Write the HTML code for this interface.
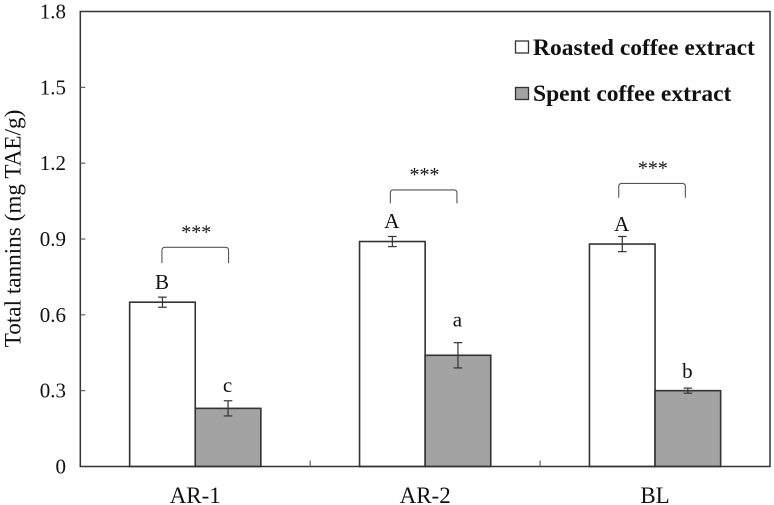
<!DOCTYPE html>
<html lang="en">
<head>
<meta charset="utf-8">
<title>Total tannins chart</title>
<style>
html,body{margin:0;padding:0;background:#fff;width:774px;height:505px;overflow:hidden}
svg{display:block;font-family:"Liberation Serif",serif;filter:blur(.3px)}
</style>
</head>
<body>
<svg id="chart" width="774" height="505" viewBox="0 0 774 505" xmlns="http://www.w3.org/2000/svg">
<rect x="0" y="0" width="774" height="505" fill="#fff"/>
<g id="plot"></g>
<text transform="translate(20.5,228.5) rotate(-90)" text-anchor="middle" font-size="23.2" fill="#111">Total tannins (mg TAE/g)</text>
<g>
<rect x="515.5" y="41" width="13" height="12" fill="#fff" stroke="#333" stroke-width="1.3"/>
<text x="533" y="55" font-size="23.5" font-weight="bold" fill="#111">Roasted coffee extract</text>
<rect x="515.5" y="87.5" width="13" height="12" fill="#a3a3a3" stroke="#333" stroke-width="1.3"/>
<text x="533" y="101" font-size="23.5" font-weight="bold" fill="#111">Spent coffee extract</text>
</g>
</svg>
<script>
const categories = ['AR-1', 'AR-2', 'BL'];
const roastedValues = [0.65, 0.89, 0.88];
const spentValues = [0.23, 0.44, 0.30];
const roastedErrors = [0.02, 0.02, 0.03];
const spentErrors = [0.03, 0.05, 0.01];
const roastedLetters = ['B', 'A', 'A'];
const spentLetters = ['c', 'a', 'b'];
const roastedLetterGaps = [0.032, 0.033, 0.022];
const spentLetterGaps = [0.035, 0.063, 0.041];
const significance = ['***', '***', '***'];
const bracketLevels = [0.867, 1.094, 1.12];
const bracketLegs = [0.063, 0.053, 0.057];
const yTicks = [0, 0.3, 0.6, 0.9, 1.2, 1.5, 1.8];
const yTickLabels = ['0', '0.3', '0.6', '0.9', '1.2', '1.5', '1.8'];

const NS = 'http://www.w3.org/2000/svg';
const plot = document.getElementById('plot');
const left = 80.3, right = 770, top_ = 11.5, bottom = 466.5, yMax = 1.8;
const bandW = (right - left) / categories.length;
const barW = 65.6;
const y = v => bottom - (v / yMax) * (bottom - top_);
const bandCenter = i => left + bandW * (i + 0.5);
const stroke = '#333';

function make(tag, attrs, name, text) {
  const el = document.createElementNS(NS, tag);
  for (const k in attrs) el.setAttribute(k, attrs[k]);
  
  
  if (text !== undefined) el.textContent = text;
  plot.appendChild(el);
  return el;
}
function line(x1, y1, x2, y2, name, w, col) {
  return make('line', {x1, y1, x2, y2, stroke: col || stroke, 'stroke-width': w || 1.5}, name);
}

categories.forEach((c, i) => {
  const cx = bandCenter(i);
  const id = c.toLowerCase();
  [[roastedValues, roastedErrors, roastedLetters, '#fff', 'roasted', -barW, roastedLetterGaps],
   [spentValues, spentErrors, spentLetters, '#a3a3a3', 'spent', 0, spentLetterGaps]].forEach(s => {
    const v = s[0][i], e = s[1][i];
    const x = cx + s[5];
    make('rect', {x, y: y(v), width: barW, height: bottom - y(v), fill: s[3], stroke: stroke, 'stroke-width': 1.6}, 'bar-' + s[4] + '-' + id);
    const mx = x + barW / 2;
    line(mx, y(v + e), mx, y(v - e), 'error-bar-' + s[4] + '-' + id, 1.2);
    line(mx - 4.3, y(v + e), mx + 4.3, y(v + e), 'error-cap-top-' + s[4] + '-' + id, 1.2);
    line(mx - 4.3, y(v - e), mx + 4.3, y(v - e), 'error-cap-bottom-' + s[4] + '-' + id, 1.2);
    make('text', {x: mx - 0.5, y: y(v + e + s[6][i]), 'text-anchor': 'middle', 'font-size': 21, fill: '#111'}, 'letter-' + s[4] + '-' + id, s[2][i]);
  });
  const by = y(bracketLevels[i]);
  const legEnd = y(bracketLevels[i] - bracketLegs[i]);
  const bracketCenter = cx - i * 1.5;
  const bx1 = bracketCenter - barW / 2 - 0.5, bx2 = bracketCenter + barW / 2 + 0.5;
  make('path', {d: `M${bx1} ${legEnd} V${by + 3} Q${bx1} ${by} ${bx1 + 3} ${by} H${bx2 - 3} Q${bx2} ${by} ${bx2} ${by + 3} V${legEnd}`, fill: 'none', stroke: '#555', 'stroke-width': 1.1}, 'significance-bracket-' + id);
  make('text', {x: cx + 1 - i * 1.6, y: by - 9, 'text-anchor': 'middle', 'font-size': 20, fill: '#111'}, 'significance-stars-' + id, significance[i]);
  make('text', {x: cx, y: 503, 'text-anchor': 'middle', 'font-size': 23, fill: '#111'}, 'x-label-' + id, c);
});

make('rect', {x: left, y: top_, width: right - left, height: bottom - top_, fill: 'none', stroke: stroke, 'stroke-width': 1.5}, 'plot-frame');
yTicks.forEach((t, i) => {
  if (t > 0 && t < yMax) line(left, y(t), left + 5, y(t), 'y-tick-' + yTickLabels[i], 1.1, '#555');
  make('text', {x: 66, y: y(t) + 7, 'text-anchor': 'end', 'font-size': 21, fill: '#111'}, 'y-tick-label-' + yTickLabels[i], yTickLabels[i]);
});
for (let i = 1; i < categories.length; i++) {
  line(left + bandW * i, bottom, left + bandW * i, bottom - 6, 'x-tick-' + i, 1.1, '#555');
}
</script>
</body>
</html>
